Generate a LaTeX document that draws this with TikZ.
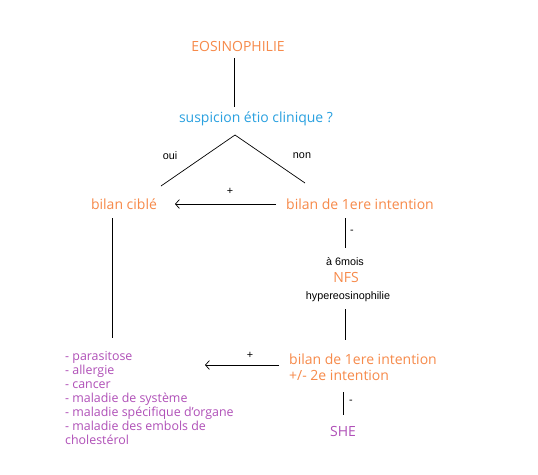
\documentclass[tikz,border=0pt]{standalone}
\usepackage{fontspec}
\setmainfont{Open Sans}
\newfontfamily\arialf{Liberation Sans}
\usetikzlibrary{arrows.meta}
\definecolor{orng}{HTML}{F78A4A}
\definecolor{blu}{HTML}{2AA1E0}
\definecolor{purp}{HTML}{B050B8}
\tikzset{
  lbl/.style={inner sep=0pt, font=\fontsize{14}{16}\selectfont},
  olbl/.style={lbl, text=orng},
  small/.style={inner sep=0pt, font=\arialf\fontsize{10.8}{12}\selectfont, text=black},
  ln/.style={line width=0.9pt, black},
  arr/.style={ln, -{Straight Barb[length=4pt,width=9pt,line width=0.7pt]}},
}
\begin{document}
\begin{tikzpicture}[x=1pt,y=-1pt]
\useasboundingbox[fill=white] (0,0) rectangle (538,474);
\node[olbl] (eos) at (238,46) {EOSINOPHILIE};
\node[lbl, text=blu] (susp) at (256,119) {suspicion étio clinique ?};
\coordinate (apex) at (235,135);
\coordinate (le) at (161,186);
\coordinate (re) at (305,183);
\draw[ln] (234,58) -- (234,107);
\draw[line width=0.7pt] (le) -- (apex) -- (re);
\node[small] (oui) at (170,156) {oui};
\node[small] (non) at (302,156) {non};
\node[olbl] (cible) at (124,204) {bilan ciblé};
\node[olbl] (b1) at (360,204) {bilan de 1ere intention};
\node[small] (p1) at (230,191) {+};
\draw[arr] (276,204) -- (175,204);
\draw[ln] (112,218) -- (112,338);
\draw[ln] (345,218) -- (345,248);
\node[small] (m1) at (352,232) {-};
\node[small] (six) at (345,262) {à 6mois};
\node[olbl] (nfs) at (346,277) {NFS};
\node[small] (hyp) at (348,297) {hypereosinophilie};
\draw[ln] (345,309) -- (345,340);
\node[lbl, text=orng, anchor=north west, align=left, font=\fontsize{14}{16}\selectfont] (b2) at (289,354) {bilan de 1ere intention\\+/- 2e intention};
\node[small] (p2) at (250,355) {+};
\draw[arr] (279,365) -- (205,365);
\draw[ln] (343,392) -- (343,415);
\node[small] (m2) at (351,402) {-};
\node[lbl, text=purp] (she) at (343,431) {SHE};
\node[inner sep=0pt, anchor=north west, align=left, text=purp, font=\fontsize{12.4}{14}\selectfont] (list) at (65,351)
 {- parasitose\\- allergie\\- cancer\\- maladie de système\\- maladie spécifique d'organe\\- maladie des embols de\\cholestérol};
\end{tikzpicture}
\end{document}
